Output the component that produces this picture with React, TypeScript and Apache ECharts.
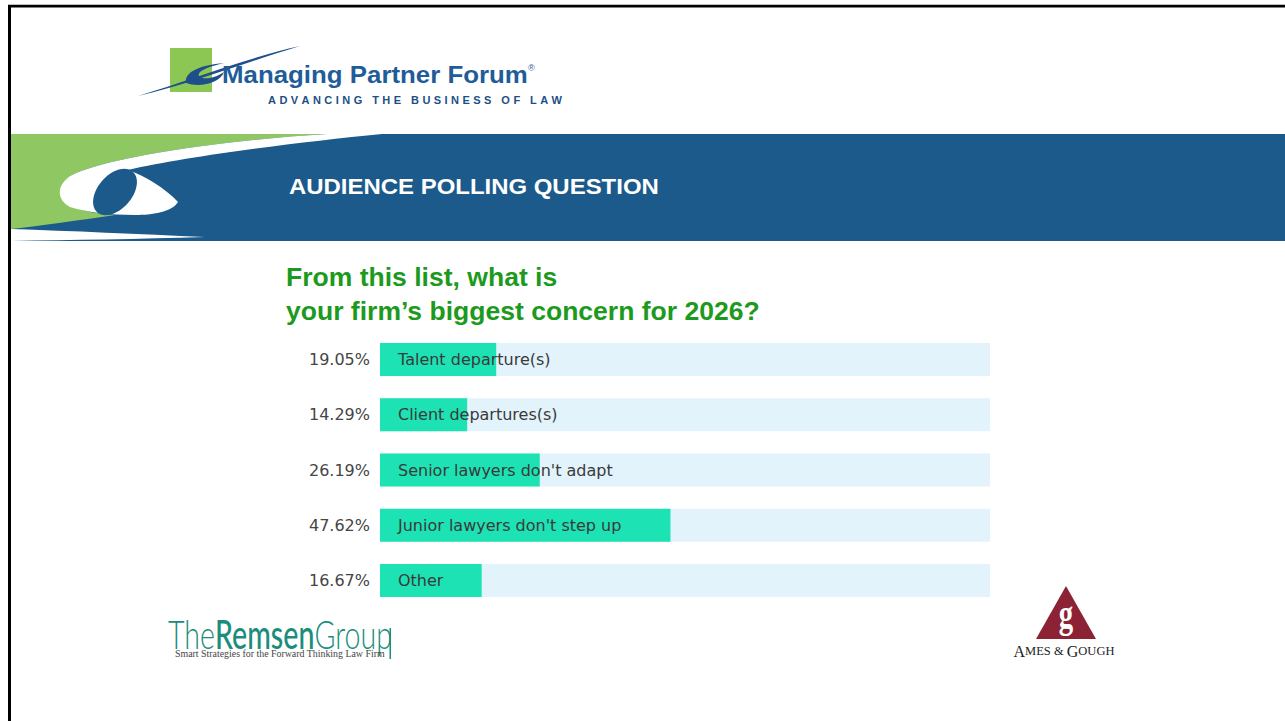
import React, { useEffect, useRef } from 'react';
import * as echarts from 'echarts';

// ---------- data ----------
const categories = [
  'Talent departure(s)',
  'Client departures(s)',
  "Senior lawyers don't adapt",
  "Junior lawyers don't step up",
  'Other',
];
const shares = [19.05, 14.29, 26.19, 47.62, 16.67];
const percentLabels = shares.map((v) => v.toFixed(2) + '%');

const headerTitle = 'AUDIENCE POLLING QUESTION';
const questionLines = ['From this list, what is', 'your firm\u2019s biggest concern for 2026?'];
const logoName = 'Managing Partner Forum';
const logoTagline = 'ADVANCING THE BUSINESS OF LAW';
const remsenParts = ['The', 'Remsen', 'Group'];
const remsenTagline = 'Smart Strategies for the Forward Thinking Law Firm';

// ---------- shapes ----------
const SHAPES: Record<string, string> = {
  hdrGreen:
    'M11,134 H327 C230,140 120,155 76,173 C60,181 58,196 72,206 C85,212 100,214 115,215 C80,220 40,226 11,229 Z',
  hdrWhite:
    'M327,134 H382 C300,142 190,156 128,170 C145,176 165,188 178,202 C172,212 152,215 135,215 C110,215 85,212 70,207 C55,199 56,182 76,173 C120,155 230,140 327,134 Z',
  hdrSliver: 'M11,229 C70,231 140,234 205,237 C140,239 70,240 11,241 Z',
  mpfSwoosh: 'M138,96 C190,80 250,57 300,46 C250,61 190,84 138,96 Z',
  mpfS: 'M186,83 C184,72 200,65 224,63 C208,67 197,71 199,76 C202,80 214,79 224,72 C220,83 200,88 186,83 Z',
};
let registered = false;
function registerShapes() {
  if (registered) return;
  registered = true;
  Object.keys(SHAPES).forEach((k) => {
    echarts.graphic.registerShape(k, echarts.graphic.extendPath(SHAPES[k], {}));
  });
}

let ctx: CanvasRenderingContext2D | null = null;
function measure(text: string, font: string): number {
  if (!ctx) ctx = document.createElement('canvas').getContext('2d');
  if (!ctx) return text.length * 10;
  ctx.font = font;
  return ctx.measureText(text).width;
}

function fitText(text: string, font: string, x: number, y: number, width: number, fill: string) {
  const w = measure(text, font);
  return {
    type: 'text',
    x,
    y,
    scaleX: width / w,
    style: { text, font, fill, textAlign: 'left', textVerticalAlign: 'middle' },
  };
}

function spacedText(text: string, font: string, x0: number, x1: number, y: number, fill: string) {
  const widths = text.split('').map((c) => measure(c, font));
  const total = widths.reduce((a, b) => a + b, 0);
  const ls = (x1 - x0 - total) / (text.length - 1);
  let x = x0;
  const out: any[] = [];
  text.split('').forEach((c, i) => {
    if (c !== ' ') {
      out.push({ type: 'text', x, y, style: { text: c, font, fill, textAlign: 'left', textVerticalAlign: 'middle' } });
    }
    x += widths[i] + ls;
  });
  return out;
}

function buildGraphics() {
  const g: any[] = [];
  // frame
  g.push({ type: 'rect', shape: { x: 8, y: 4, width: 1277, height: 1 }, style: { fill: '#bdbdbd' } });
  g.push({ type: 'rect', shape: { x: 8, y: 5, width: 1277, height: 2.5 }, style: { fill: '#000' } });
  g.push({ type: 'rect', shape: { x: 8, y: 5, width: 3, height: 716 }, style: { fill: '#000' } });

  // header band
  g.push({ type: 'rect', shape: { x: 11, y: 134, width: 1274, height: 107 }, style: { fill: '#1b5a8a' } });
  g.push({ type: 'hdrGreen', x: 0, y: 0, style: { fill: '#8fc862' } });
  g.push({ type: 'hdrWhite', x: 0, y: 0, style: { fill: '#ffffff' } });
  g.push({ type: 'ellipse', x: 115, y: 192, rotation: 0.85, shape: { cx: 0, cy: 0, rx: 27, ry: 17 }, style: { fill: '#1b5a8a' } });
  g.push({ type: 'hdrSliver', x: 0, y: 0, style: { fill: '#ffffff' } });
  g.push(fitText(headerTitle, 'bold 22px "Liberation Sans"', 289, 186, 370, '#ffffff'));

  // Managing Partner Forum logo
  g.push({ type: 'rect', shape: { x: 170, y: 48, width: 42, height: 44 }, style: { fill: '#8cc653' } });
  g.push({ type: 'mpfSwoosh', x: 0, y: 0, style: { fill: '#1e4f8c' } });
  g.push({ type: 'mpfS', x: 0, y: 0, style: { fill: '#1e4f8c' } });
  g.push(fitText(logoName, 'bold 24px "Liberation Sans"', 222, 74, 306, '#1f5c99'));
  g.push({ type: 'text', x: 528, y: 68, style: { text: '\u00ae', font: '9px "Liberation Sans"', fill: '#1f5c99', textAlign: 'left', textVerticalAlign: 'middle' } });
  spacedText(logoTagline, 'bold 11px "Liberation Sans"', 268, 562, 100, '#1d4f86').forEach((e) => g.push(e));

  // question
  const qFont = 'bold 25px "Liberation Sans"';
  const qScale = 474 / measure(questionLines[1], qFont);
  questionLines.forEach((t, i) => {
    g.push({ type: 'text', x: 286, y: i === 0 ? 277 : 311, scaleX: qScale, style: { text: t, font: qFont, fill: '#1d9a1d', textAlign: 'left', textVerticalAlign: 'middle' } });
  });

  // Remsen group logo
  const fonts = ['300 40px Lato', '500 40px Lato', '300 40px Lato'];
  const ws = remsenParts.map((p, i) => measure(p, fonts[i]));
  const rs = 224 / ws.reduce((a, b) => a + b, 0);
  let rx = 168;
  remsenParts.forEach((p, i) => {
    g.push({ type: 'text', x: rx, y: 633, scaleX: rs, style: { text: p, font: fonts[i], fill: '#1b8d7c', textAlign: 'left', textVerticalAlign: 'middle' } });
    rx += ws[i] * rs;
  });
  g.push({ type: 'rect', shape: { x: 389.5, y: 628, width: 1.5, height: 31 }, style: { fill: '#1b8d7c' } });
  g.push(fitText(remsenTagline, '9.5px "Liberation Serif"', 175, 654, 210, '#444444'));

  // Ames & Gough logo
  g.push({ type: 'polygon', shape: { points: [[1066, 586], [1036, 639], [1096, 639]] }, style: { fill: '#8c2233' } });
  g.push({ type: 'text', x: 1066, y: 614, scaleX: 0.72, style: { text: 'g', font: 'bold 40px "Liberation Serif"', fill: '#ffffff', textAlign: 'center', textVerticalAlign: 'middle' } });
  g.push({
    type: 'text',
    x: 1064,
    y: 651,
    style: {
      text: '{b|A}{s|MES & }{b|G}{s|OUGH}',
      textAlign: 'center',
      textVerticalAlign: 'middle',
      rich: {
        b: { fontSize: 16, fontFamily: 'Liberation Serif', fill: '#222', color: '#222' },
        s: { fontSize: 12.5, fontFamily: 'Liberation Serif', fill: '#222', color: '#222' },
      },
    },
  });
  return g;
}

export default function App() {
  const ref = useRef<HTMLDivElement>(null);
  useEffect(() => {
    if (!ref.current) return;
    registerShapes();
    const chart = echarts.init(ref.current, undefined, { renderer: 'svg' });
    chart.setOption({
      animation: false,
      backgroundColor: '#ffffff',
      grid: { left: 380, width: 610, top: 332, height: 276 },
      xAxis: { type: 'value', min: 0, max: 100, show: false },
      yAxis: {
        type: 'category',
        inverse: true,
        data: categories,
        axisLine: { show: false },
        axisTick: { show: false },
        splitLine: { show: false },
        axisLabel: {
          formatter: (_v: string, i: number) => percentLabels[i],
          color: '#454545',
          fontSize: 16,
          fontFamily: 'DejaVu Sans',
          margin: 10,
        },
      },
      series: [
        {
          type: 'bar',
          data: shares,
          barWidth: 33,
          showBackground: true,
          backgroundStyle: { color: '#e3f3fb' },
          itemStyle: { color: '#1de2b4' },
          silent: true,
          label: {
            show: true,
            position: 'insideLeft',
            distance: 18,
            formatter: '{b}',
            color: '#3a3a3a',
            fontSize: 16,
            fontFamily: 'DejaVu Sans',
          },
        },
      ],
      graphic: buildGraphics(),
    });
    return () => chart.dispose();
  }, []);
  return (
    <div
      ref={ref}
      style={{ position: 'absolute', left: 0, top: 0, width: 1285, height: 721 }}
    />
  );
}
